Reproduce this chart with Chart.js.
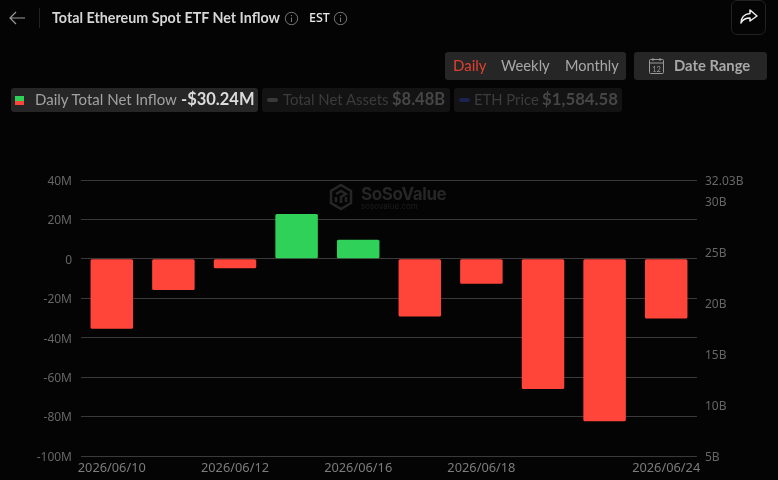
<!DOCTYPE html>
<html>
<head>
<meta charset="utf-8">
<title>Total Ethereum Spot ETF Net Inflow</title>
<script src="https://cdn.jsdelivr.net/npm/chart.js@4"></script>
<style>
  html, body { margin: 0; padding: 0; background: #040404; width: 778px; height: 480px; overflow: hidden; font-family: Lato, sans-serif; }
  #chart { position: absolute; left: 0; top: 0; }
  .abs { position: absolute; white-space: nowrap; line-height: 1; }
  .pill { position: absolute; background: #262626; border-radius: 3px; }
  .dim { background: #131313; }
</style>
</head>
<body>
<canvas id="chart" width="778" height="480"></canvas>

<!-- header -->
<svg class="abs" style="left:8px;top:10px" width="18" height="16" viewBox="0 0 18 16" fill="none" stroke="#9a9a9a" stroke-width="1.2">
  <path d="M17 8H2M8 2L2 8l6 6"/>
</svg>
<div class="abs" style="left:39px;top:8px;width:1px;height:20px;background:#222"></div>
<div class="abs" id="title" style="left:52px;top:11px;font-size:14.3px;font-weight:700;color:#d6d6d6">Total Ethereum Spot ETF Net Inflow</div>
<svg class="abs" style="left:284px;top:11px" width="15" height="15" viewBox="0 0 15 15" fill="none" stroke="#777" stroke-width="1">
  <circle cx="7.5" cy="7.5" r="6.2"/><path d="M7.5 6.5v4.5M7.5 4v1.2"/>
</svg>
<div class="abs" style="left:309px;top:12px;font-size:12.5px;font-weight:500;color:#e8e8e8;font-family:'Noto Sans',sans-serif">EST</div>
<svg class="abs" style="left:333px;top:11px" width="15" height="15" viewBox="0 0 15 15" fill="none" stroke="#777" stroke-width="1">
  <circle cx="7.5" cy="7.5" r="6.2"/><path d="M7.5 6.5v4.5M7.5 4v1.2"/>
</svg>
<div class="abs" style="left:731px;top:0;width:35px;height:35px;border:1px solid #222;border-radius:6px;box-sizing:border-box"></div>
<svg class="abs" style="left:739px;top:8px" width="20" height="18" viewBox="0 0 20 18" fill="none" stroke="#eee" stroke-width="1.5" stroke-linejoin="round">
  <path d="M11 2l7 6-7 5v-3C7 10 4 11 2 15c0-5 3-9 9-9.500z"/>
</svg>

<!-- period switch and date range -->
<div class="pill" style="left:445px;top:52px;width:181px;height:28px"></div>
<div class="abs" style="left:453px;top:58px;font-size:15px;color:#e0402f">Daily</div>
<div class="abs" style="left:501px;top:58px;font-size:14.8px;color:#a8a8a8">Weekly</div>
<div class="abs" style="left:565px;top:59px;font-size:14.500px;color:#a8a8a8">Monthly</div>
<div class="pill" style="left:634px;top:52px;width:133px;height:28px"></div>
<svg class="abs" style="left:648px;top:57px" width="17" height="18" viewBox="0 0 17 18" fill="none" stroke="#999" stroke-width="1">
  <rect x="1.500" y="2.500" width="14" height="14" rx="1"/><path d="M1.500 6h14M5 1v3M12 1v3"/>
  <text x="8.500" y="14.500" font-size="7.500" font-family="Lato" fill="#999" stroke="none" text-anchor="middle">12</text>
</svg>
<div class="abs" style="left:674px;top:58px;font-size:14.800px;font-weight:700;color:#a8a8a8">Date Range</div>

<!-- legend row -->
<div class="pill" style="left:11px;top:88px;width:247px;height:24px"></div>
<div class="abs" style="left:15px;top:96px;width:9px;height:5px;background:#30d158"></div>
<div class="abs" style="left:15px;top:101px;width:9px;height:4px;background:#ff453a"></div>
<div class="abs" style="left:35px;top:92px;font-size:15px;color:#a2a2a2">Daily Total Net Inflow</div>
<div class="abs" style="left:181px;top:91px;font-size:16.500px;font-weight:700;color:#dcdcdc">-$30.24M</div>
<div class="pill dim" style="left:262px;top:88px;width:188px;height:24px"></div>
<div class="abs" style="left:267px;top:98px;width:11px;height:4px;border-radius:2px;background:#3a3a3a"></div>
<div class="abs" style="left:283px;top:92px;font-size:14.900px;color:#3c3c3c">Total Net Assets</div>
<div class="abs" style="left:392px;top:91px;font-size:16.500px;font-weight:700;color:#464646">$8.48B</div>
<div class="pill dim" style="left:454px;top:88px;width:168px;height:24px"></div>
<div class="abs" style="left:459px;top:98px;width:11px;height:4px;border-radius:2px;background:#1c2350"></div>
<div class="abs" style="left:474px;top:92px;font-size:14.800px;color:#3c3c3c">ETH Price</div>
<div class="abs" style="left:542px;top:91px;font-size:16.800px;font-weight:700;color:#464646">$1,584.58</div>

<!-- watermark -->
<svg class="abs" style="left:329px;top:183px" width="24" height="28" viewBox="0 0 24 28" fill="none" stroke="#262626" stroke-width="2.500">
  <path d="M12 2l10 6v12l-10 6-10-6V8z"/><path d="M7 11l5-3 5 3-5 3v6M7 14v5M17 14v5"/>
</svg>
<div class="abs" style="left:361px;top:186px;font-size:17px;font-weight:700;color:#262626;letter-spacing:-0.4px;font-family:Inter,sans-serif">SoSoValue</div>
<div class="abs" style="left:361px;top:202px;font-size:8px;color:#1e1e1e;font-family:Inter,sans-serif">sosovalue.com</div>

<script>
const categories = ["2026/06/10", "2026/06/11", "2026/06/12", "2026/06/15", "2026/06/16", "2026/06/17", "2026/06/18", "2026/06/22", "2026/06/23", "2026/06/24"];
const netInflow = [-35.4, -15.8, -4.8, 22.7, 9.7, -29.3, -12.6, -66, -82.4, -30.24];
const shownDates = ["2026/06/10", "2026/06/12", "2026/06/16", "2026/06/18", "2026/06/24"];
const assetTicks = [5, 10, 15, 20, 25, 30, 32.03];

const UP = "#30d158";
const DOWN = "#ff453a";
const axisFont = { family: "'Noto Sans', sans-serif", size: 12 };
const dateFont = { family: "'Noto Sans', sans-serif", size: 12.8 };

new Chart(document.getElementById("chart"), {
  type: "bar",
  data: {
    labels: categories,
    datasets: [{
      data: netInflow,
      backgroundColor: netInflow.map(v => (v < 0 ? DOWN : UP)),
      borderWidth: 0,
      borderRadius: 1.5,
      borderSkipped: false,
      barPercentage: 0.69,
      categoryPercentage: 1,
      yAxisID: "y"
    }]
  },
  options: {
    responsive: false,
    animation: false,
    layout: { padding: { top: 180, left: 0, right: 0, bottom: 0 } },
    plugins: { legend: { display: false }, tooltip: { enabled: false } },
    scales: {
      x: {
        grid: { display: false, drawTicks: false },
        border: { display: false },
        afterFit: s => { s.height = 24; },
        ticks: {
          autoSkip: false,
          maxRotation: 0,
          padding: 5,
          color: "#7c7c7c",
          font: dateFont,
          callback(value) {
            const label = this.getLabelForValue(value);
            return shownDates.includes(label) ? label : "";
          }
        }
      },
      y: {
        position: "left",
        min: -100,
        max: 40,
        afterFit: s => { s.width = 81; },
        grid: { color: "#3a3a3a", lineWidth: 1, drawTicks: false },
        border: { display: false },
        ticks: {
          stepSize: 20,
          padding: 9,
          labelOffset: 1.5,
          color: "#666666",
          font: axisFont,
          callback: v => (v === 0 ? "0" : v + "M")
        }
      },
      assets: {
        position: "right",
        display: true,
        min: 5,
        max: 32.03,
        afterFit: s => { s.width = 81; },
        afterBuildTicks: s => { s.ticks = assetTicks.map(value => ({ value })); },
        grid: { display: false, drawTicks: false },
        border: { display: false },
        ticks: {
          padding: 8,
          labelOffset: 1.5,
          color: "#666666",
          font: axisFont,
          callback: v => v + "B"
        }
      }
    }
  }
});
</script>
</body>
</html>
